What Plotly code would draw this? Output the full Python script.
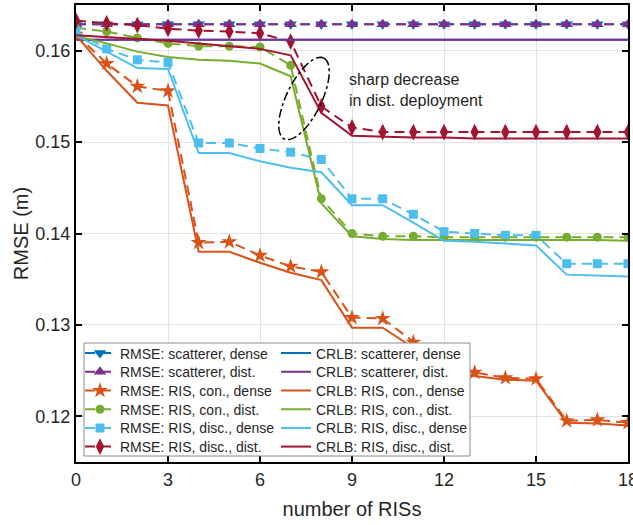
import numpy as np
import plotly.graph_objects as go

# ---------------- data ----------------
n_ris = list(range(19))

rmse_scat_dense = [0.1629] * 19
rmse_scat_dist = [0.1629] * 19
rmse_con_dense = [0.1618, 0.1586, 0.1561, 0.1556, 0.1390, 0.1391, 0.1376, 0.1364, 0.1358, 0.1308,
                  0.1307, 0.1281, 0.1256, 0.1248, 0.1242, 0.1241, 0.1195, 0.1196, 0.1193]
rmse_con_dist = [0.1625, 0.1621, 0.1614, 0.1608, 0.1605, 0.1605, 0.1604, 0.1584, 0.1438, 0.1400,
                 0.1397, 0.1397, 0.1396, 0.1396, 0.1396, 0.1396, 0.1396, 0.1396, 0.1396]
rmse_disc_dense = [0.1621, 0.1602, 0.1590, 0.1587, 0.1499, 0.1499, 0.1493, 0.1489, 0.1481, 0.1438,
                   0.1438, 0.1421, 0.1402, 0.1400, 0.1398, 0.1398, 0.1367, 0.1367, 0.1367]
rmse_disc_dist = [0.1633, 0.1630, 0.1628, 0.1624, 0.1622, 0.1621, 0.1619, 0.1610, 0.1539, 0.1516,
                  0.1511, 0.1511, 0.1511, 0.1511, 0.1511, 0.1511, 0.1511, 0.1511, 0.1511]

crlb_scat_dense = [0.1612] * 19
crlb_scat_dist = [0.1612] * 19
crlb_con_dense = [0.1617, 0.1578, 0.1543, 0.1540, 0.1380, 0.1380, 0.1368, 0.1357, 0.1349, 0.1297,
                  0.1297, 0.1275, 0.1255, 0.1244, 0.1240, 0.1239, 0.1193, 0.1192, 0.1190]
crlb_con_dist = [0.1616, 0.1608, 0.1599, 0.1593, 0.1590, 0.1589, 0.1586, 0.1572, 0.1433, 0.1397,
                 0.1394, 0.1393, 0.1393, 0.1393, 0.1393, 0.1393, 0.1393, 0.1393, 0.1392]
crlb_disc_dense = [0.1617, 0.1599, 0.1581, 0.1580, 0.1488, 0.1488, 0.1479, 0.1472, 0.1467, 0.1431,
                   0.1431, 0.1412, 0.1392, 0.1391, 0.1389, 0.1387, 0.1355, 0.1354, 0.1353]
crlb_disc_dist = [0.1617, 0.1615, 0.1613, 0.1611, 0.1608, 0.1605, 0.1602, 0.1595, 0.1532, 0.1507,
                  0.1506, 0.1505, 0.1505, 0.1504, 0.1504, 0.1504, 0.1504, 0.1504, 0.1504]

x_ticks = [0, 3, 6, 9, 12, 15, 18]
y_ticks = [0.12, 0.13, 0.14, 0.15, 0.16]
y_tick_labels = ["0.12", "0.13", "0.14", "0.15", "0.16"]

labels = ["scatterer, dense", "scatterer, dist.", "RIS, con., dense",
          "RIS, con., dist.", "RIS, disc., dense", "RIS, disc., dist."]
colors = ["#0072BD", "#7E2F8E", "#D95319", "#77AC30", "#4DBEEE", "#A2142F"]
symbols = ["triangle-down", "triangle-up", "star", "circle", "square", "diamond-tall"]
msizes = [11, 11, 12, 9, 9, 12]

rmse_all = [rmse_scat_dense, rmse_scat_dist, rmse_con_dense, rmse_con_dist, rmse_disc_dense, rmse_disc_dist]
crlb_all = [crlb_scat_dense, crlb_scat_dist, crlb_con_dense, crlb_con_dist, crlb_disc_dense, crlb_disc_dist]

FONT = "Liberation Sans, Arial, Helvetica, sans-serif"
TXT = "#262626"

# ---- pixel helpers for layout geometry ----
L, R, T, B = 76, 628, 5, 462
x_rng = [0, 18]
y_rng = [0.115, 0.165]


def px2x(px):
    return x_rng[0] + (px - L) / (R - L) * (x_rng[1] - x_rng[0])


def px2y(py):
    return y_rng[1] - (py - T) / (B - T) * (y_rng[1] - y_rng[0])


def pxpaper_x(px):
    return (px - L) / (R - L)


def pxpaper_y(py):
    return (B - py) / (B - T)


fig = go.Figure()
legend_layouts = {}
row_y0, row_dy = 353.5, 18.7
col_x = [80, 276]
k = 0
for col, (prefix, series_list) in enumerate([("RMSE: ", rmse_all), ("CRLB: ", crlb_all)]):
    for i, (lab, c, s, ms, ys) in enumerate(zip(labels, colors, symbols, msizes, series_list)):
        k += 1
        lname = "legend" if k == 1 else f"legend{k}"
        if col == 0:
            tr = go.Scatter(x=n_ris, y=ys, mode="lines+markers", name=prefix + lab,
                            line=dict(color=c, width=2, dash="10px,6px"),
                            marker=dict(symbol=s, size=ms, color=c, line=dict(width=0)),
                            legend=lname)
        else:
            tr = go.Scatter(x=n_ris, y=ys, mode="lines", name=prefix + lab,
                            line=dict(color=c, width=2), legend=lname)
        fig.add_trace(tr)
        legend_layouts[lname] = dict(
            x=pxpaper_x(col_x[col]), y=pxpaper_y(row_y0 + i * row_dy),
            xanchor="left", yanchor="middle", bgcolor="rgba(0,0,0,0)", borderwidth=0,
            font=dict(family=FONT, size=14, color=TXT), itemwidth=30)

# dash-dot ellipse (drawn in pixel geometry then mapped to data coords)
cx, cy, a, b = 304.0, 98.5, 45.0, 17.5
ang = np.deg2rad(-64.0)
t = np.linspace(0, 2 * np.pi, 73)
ex = cx + a * np.cos(t) * np.cos(ang) - b * np.sin(t) * np.sin(ang)
ey = cy + a * np.cos(t) * np.sin(ang) + b * np.sin(t) * np.cos(ang)
path = "M " + " L ".join(f"{px2x(px):.5f},{px2y(py):.6f}" for px, py in zip(ex, ey)) + " Z"
fig.add_shape(type="path", path=path, xref="x", yref="y",
              line=dict(color="black", width=1.5, dash="dashdot"), layer="above")

fig.add_annotation(x=px2x(347), y=px2y(90), xref="x", yref="y",
                   text="sharp decrease<br>in dist. deployment", showarrow=False,
                   xanchor="left", yanchor="middle", align="left",
                   font=dict(family=FONT, size=16, color=TXT))

# legend box
fig.add_shape(type="rect", xref="paper", yref="paper",
              x0=pxpaper_x(84), x1=pxpaper_x(470), y0=pxpaper_y(456), y1=pxpaper_y(343),
              fillcolor="white", line=dict(color="#8c8c8c", width=1), layer="above")

fig.update_layout(**legend_layouts)

axis_common = dict(showline=True, linecolor="black", linewidth=2, mirror="ticks",
                   ticks="inside", ticklen=6, tickwidth=1.5, tickcolor="black",
                   showgrid=True, gridcolor="#e3e3e3", gridwidth=1, zeroline=False,
                   automargin=False,
                   tickfont=dict(family=FONT, size=18, color=TXT))
fig.update_xaxes(range=x_rng, tickvals=x_ticks, ticktext=[str(v) for v in x_ticks],
                 ticklabeloverflow="allow",
                 title=dict(text="number of RISs", font=dict(family=FONT, size=20, color=TXT), standoff=13),
                 **axis_common)
fig.update_yaxes(range=y_rng, tickvals=y_ticks, ticktext=y_tick_labels,
                 title=dict(text="RMSE (m)", font=dict(family=FONT, size=20, color=TXT), standoff=1),
                 **axis_common)

fig.update_layout(width=633, height=525, margin=dict(l=L, r=633 - R, t=T, b=525 - B),
                  plot_bgcolor="white", paper_bgcolor="white", showlegend=True,
                  font=dict(family=FONT, color=TXT))

fig.write_html("out.html")
